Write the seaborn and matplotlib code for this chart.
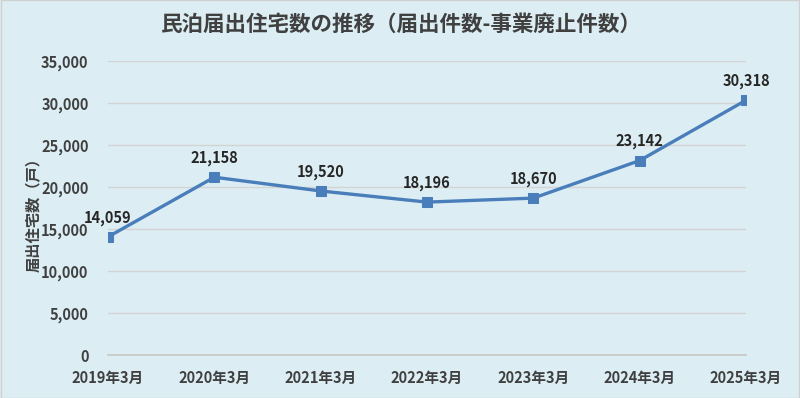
import pandas as pd
import matplotlib
matplotlib.use('Agg')
import matplotlib.pyplot as plt
import seaborn as sns
from matplotlib.ticker import FuncFormatter

# --- data ---
periods = ['2019年3月', '2020年3月', '2021年3月', '2022年3月',
           '2023年3月', '2024年3月', '2025年3月']
houses = [14059, 21158, 19520, 18196, 18670, 23142, 30318]

df = pd.DataFrame({'period': periods, 'houses': houses})

bg = '#DCEEF4'
sns.set_theme(style='white')
plt.rcParams['font.family'] = ['Noto Sans CJK JP', 'DejaVu Sans']

fig = plt.figure(figsize=(8, 3.98), dpi=100, facecolor=bg)
ax = fig.add_axes([0.135, 0.108, 0.7975, 0.739])
ax.set_facecolor(bg)

sns.lineplot(data=df, x='period', y='houses', ax=ax, sort=False,
             color='#4A7EBB', linewidth=2.4, marker='s', markersize=7,
             markeredgecolor='#4A7EBB', markerfacecolor='#4A7EBB')

ax.set_xlim(0, len(periods) - 1)
ax.set_ylim(0, 35000)
ax.set_yticks(range(0, 35001, 5000))
ax.yaxis.set_major_formatter(FuncFormatter(lambda v, p: f'{int(v):,}'))
ax.grid(axis='y', color='#D3D3D3', linewidth=1)
ax.set_axisbelow(True)

for s in ['top', 'right', 'left']:
    ax.spines[s].set_visible(False)
ax.spines['bottom'].set_color('#C8C8C8')
ax.tick_params(axis='x', length=5, color='#C8C8C8', width=1, pad=6,
               labelsize=10.5, labelcolor='#404040')
ax.tick_params(axis='y', length=0, pad=14, labelsize=10.5, labelcolor='#404040')
for lab in ax.get_xticklabels() + ax.get_yticklabels():
    lab.set_fontweight('bold')

ax.set_xlabel('')
ax.set_ylabel('届出住宅数（戸）', fontsize=11, color='#404040',
              fontweight='bold')
ax.yaxis.set_label_coords(-0.104, 0.49)

# value labels above each point
for i, v in enumerate(houses):
    ax.annotate(f'{v:,}', (i, v), xytext=(0, 8), textcoords='offset points',
                ha='center', va='bottom', fontsize=10.5, fontweight='bold',
                color='#262626')

fig.text(0.5, 0.94, '民泊届出住宅数の推移（届出件数-事業廃止件数）',
         ha='center', va='center', fontsize=15.5, color='#404040',
         fontweight='bold')

# thin frame around the figure
fig.patches.append(plt.Rectangle((0.001, 0.001), 0.998, 0.998,
                                 transform=fig.transFigure, fill=False,
                                 edgecolor='#D0D0D0', linewidth=1))

plt.savefig('out.png', dpi=100, facecolor=bg)
